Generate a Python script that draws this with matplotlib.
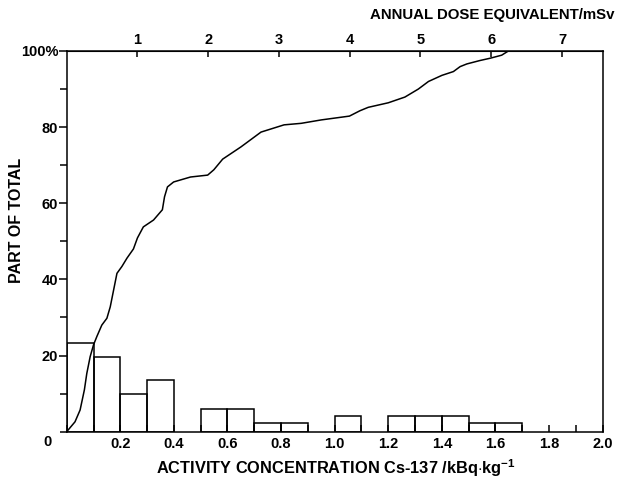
import matplotlib
matplotlib.use('Agg')
import matplotlib.pyplot as plt
from matplotlib.ticker import MultipleLocator, FixedLocator

plt.rcParams['font.family'] = ['Liberation Sans', 'DejaVu Sans']
plt.rcParams['font.weight'] = 'bold'
plt.rcParams['mathtext.fontset'] = 'custom'
plt.rcParams['mathtext.bf'] = 'Liberation Sans:bold'
plt.rcParams['mathtext.rm'] = 'Liberation Sans:bold'
plt.rcParams['mathtext.default'] = 'bf'

# гистограмма: левые края интервалов (kBq/kg) и доли, %
bin_left = [0.0, 0.1, 0.2, 0.3, 0.5, 0.6, 0.7, 0.8, 1.0, 1.2, 1.3, 1.4, 1.5, 1.6]
bin_pct = [23.2, 19.5, 9.8, 13.6, 6.0, 6.0, 2.4, 2.2, 4.2, 4.2, 4.2, 4.2, 2.2, 2.2]
bin_width = 0.1

# кумулятивная кривая
cum_x = [0.0, 0.031, 0.05, 0.066, 0.075, 0.0875, 0.1, 0.1125, 0.131, 0.15,
         0.1625, 0.175, 0.1875, 0.206, 0.225, 0.249, 0.264, 0.286, 0.324, 0.357,
         0.365, 0.376, 0.399, 0.462, 0.526, 0.549, 0.582, 0.65, 0.725, 0.811,
         0.875, 0.95, 1.055, 1.094, 1.125, 1.2, 1.262, 1.312, 1.35, 1.4,
         1.443, 1.468, 1.493, 1.542, 1.58, 1.623, 1.648]
cum_y = [0.0, 2.6, 5.7, 11.0, 15.3, 19.7, 22.8, 25.0, 28.0, 29.8,
         32.8, 37.2, 41.6, 43.4, 45.6, 48.0, 50.9, 53.8, 55.6, 58.3,
         61.7, 64.3, 65.6, 66.9, 67.4, 68.8, 71.6, 74.8, 78.7, 80.6,
         81.0, 81.9, 82.9, 84.3, 85.2, 86.4, 87.9, 90.0, 92.0, 93.6,
         94.6, 95.9, 96.6, 97.5, 98.1, 98.9, 100.0]

# верхняя шкала: годовая доза, мЗв
dose_ticks = [1, 2, 3, 4, 5, 6, 7]
kbq_per_msv = 0.264

y_ticks = [20, 40, 60, 80, 100]
y_labels = ['20', '40', '60', '80', '100%']
x_ticks = [0.2, 0.4, 0.6, 0.8, 1.0, 1.2, 1.4, 1.6, 1.8, 2.0]

fig = plt.figure(figsize=(6.21, 4.79), dpi=100)
ax = fig.add_axes([66.7 / 621, 1 - 431.7 / 479, 536 / 621, 380.7 / 479])

lw = 1.1
ax.bar(bin_left, bin_pct, width=bin_width, align='edge', fill=False,
       edgecolor='black', linewidth=lw)
ax.plot(cum_x, cum_y, color='black', linewidth=lw)

ax.set_xlim(0, 2.0)
ax.set_ylim(0, 100)
for s in ax.spines.values():
    s.set_linewidth(lw)

ax.xaxis.set_major_locator(FixedLocator(x_ticks))
ax.set_xticklabels([f'{v:.1f}' for v in x_ticks])
ax.xaxis.set_minor_locator(MultipleLocator(0.1))
ax.tick_params(axis='x', which='both', direction='in', length=5, width=lw,
               labelsize=10.5, pad=4)

ax.yaxis.set_major_locator(FixedLocator(y_ticks))
ax.set_yticklabels(y_labels)
ax.yaxis.set_minor_locator(MultipleLocator(10))
ax.tick_params(axis='y', which='major', direction='out', length=6, width=lw,
               labelsize=10.5, pad=0)
ax.tick_params(axis='y', which='minor', direction='out', length=5, width=lw)

ax.text(-0.035, -0.027, '0', transform=ax.transAxes, ha='center', va='center',
        fontsize=10.5, fontweight='bold')

top = ax.secondary_xaxis('top', functions=(lambda x: x / kbq_per_msv,
                                           lambda d: d * kbq_per_msv))
top.set_xticks(dose_ticks)
top.set_xticklabels([str(d) for d in dose_ticks])
top.tick_params(direction='in', length=4, width=lw, labelsize=10.5, pad=3)

fig.text(17 / 621, 1 - 220 / 479, 'PART OF TOTAL', rotation=90,
         ha='center', va='center', fontsize=11.5, fontweight='bold')
fig.text(336 / 621, 1 - 468.5 / 479,
         'ACTIVITY CONCENTRATION Cs-137 /kBq$\\cdot$kg$^{-1}$',
         ha='center', va='center', fontsize=11.8, fontweight='bold')
fig.text(614 / 621, 1 - 15 / 479, 'ANNUAL DOSE EQUIVALENT/mSv',
         ha='right', va='center', fontsize=10.8, fontweight='bold')

fig.savefig('out.png', dpi=100)
